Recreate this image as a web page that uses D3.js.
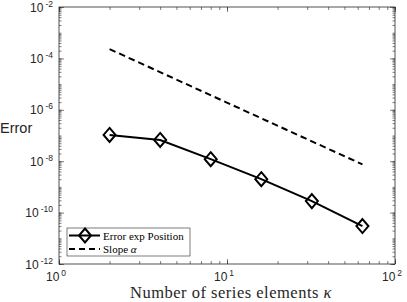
<!DOCTYPE html>
<html>
<head>
<meta charset="utf-8">
<script src="https://cdn.jsdelivr.net/npm/d3@7"></script>
<style>
body { margin: 0; background: #fff; }
</style>
</head>
<body>
<script>
var width = 407
var height = 302

// data
var kappa = [2, 4, 8, 16, 32, 64]
var errorExp = [1.05e-7, 6.7e-8, 1.2e-8, 2.0e-9, 2.8e-10, 3.0e-11]
var slopeK = [2, 64]
var slopeVals = [2.3e-4, 7.5e-9]
var xTicks = [1, 10, 100]
var yTicks = [1e-12, 1e-10, 1e-8, 1e-6, 1e-4, 1e-2]
var legendLabels = ['Error exp Position', 'Slope ']

var margin = { left: 59, right: 12, top: 7, bottom: 38 }

var x = d3.scaleLog().domain([1, 100]).range([margin.left, width - margin.right])
var y = d3.scaleLog().domain([1e-12, 1e-2]).range([height - margin.bottom, margin.top])

var svg = d3.select('body').append('svg')
    .attr('width', width)
    .attr('height', height)
    .style('display', 'block')

// minor tick values (k * 10^n)
function minors(lo, hi) {
    var out = []
    for (var e = lo; e < hi; e++) {
        for (var k = 1; k < 10; k++) out.push(k * Math.pow(10, e))
    }
    out.push(Math.pow(10, hi))
    return out
}
var xMinor = minors(0, 2)
var yMinor = minors(-12, -2)

var x0 = x.range()[0], x1 = x.range()[1]
var y0 = y.range()[0], y1 = y.range()[1]

function drawAxis(axis, tx, ty) {
    var g = svg.append('g')
        .attr('transform', 'translate(' + tx + ',' + ty + ')')
        .call(axis)
    g.select('.domain').remove()
    g.selectAll('line').attr('stroke', '#262626').attr('stroke-width', 0.6)
    g.selectAll('text').remove()
    return g
}

// minor ticks, inside, all four sides
drawAxis(d3.axisBottom(x).tickValues(xMinor).tickSize(-3), 0, y0)
drawAxis(d3.axisTop(x).tickValues(xMinor).tickSize(-3), 0, y1)
drawAxis(d3.axisLeft(y).tickValues(yMinor).tickSize(-2.5), x0, 0)
drawAxis(d3.axisRight(y).tickValues(yMinor).tickSize(-2.5), x1, 0)
// major ticks
drawAxis(d3.axisBottom(x).tickValues(xTicks).tickSize(-5), 0, y0)
drawAxis(d3.axisTop(x).tickValues(xTicks).tickSize(-5), 0, y1)
drawAxis(d3.axisLeft(y).tickValues(yTicks).tickSize(-5), x0, 0)
drawAxis(d3.axisRight(y).tickValues(yTicks).tickSize(-5), x1, 0)

// box
svg.append('rect')
    .attr('x', x0).attr('y', y1)
    .attr('width', x1 - x0).attr('height', y0 - y1)
    .attr('fill', 'none')
    .attr('stroke', '#262626')
    .attr('stroke-width', 0.8)

var tickFont = '"Liberation Sans", Arial, sans-serif'

function powLabel(t, v) {
    t.append('tspan').text('10')
    t.append('tspan')
        .attr('dx', 2)
        .attr('dy', -5)
        .attr('font-size', 8.5)
        .text(String(Math.round(Math.log10(v))))
}

// y tick labels
yTicks.forEach(function (v) {
    var t = svg.append('text')
        .attr('x', x0 - 6)
        .attr('y', y(v) + 4.5)
        .attr('text-anchor', 'end')
        .attr('font-family', tickFont)
        .attr('font-size', 12)
        .attr('fill', '#262626')
    powLabel(t, v)
})

// x tick labels
xTicks.forEach(function (v) {
    var t = svg.append('text')
        .attr('x', x(v) - 3)
        .attr('y', y0 + 17)
        .attr('text-anchor', 'middle')
        .attr('font-family', tickFont)
        .attr('font-size', 12)
        .attr('fill', '#262626')
    powLabel(t, v)
})

// axis labels
var serif = '"Liberation Serif", "Times New Roman", serif'
var xl = svg.append('text')
    .attr('x', (x0 + x1) / 2 + 4)
    .attr('y', height - 4)
    .attr('text-anchor', 'middle')
    .attr('font-family', serif)
    .attr('font-size', 16.5)
    .attr('letter-spacing', 0.5)
    .attr('fill', '#262626')
xl.append('tspan').text('Number of series elements ')
xl.append('tspan').attr('font-style', 'italic').text('\u03ba')

svg.append('text')
    .attr('x', 0)
    .attr('y', 133)
    .attr('font-family', tickFont)
    .attr('font-size', 14.5)
    .attr('fill', '#262626')
    .text('Error')

// slope line
var line = d3.line()
    .x(function (d) { return x(d[0]) })
    .y(function (d) { return y(d[1]) })

svg.append('path')
    .datum(d3.zip(slopeK, slopeVals))
    .attr('d', line)
    .attr('fill', 'none')
    .attr('stroke', '#000')
    .attr('stroke-width', 2)
    .attr('stroke-dasharray', '6.5,4')

// error line + diamond markers
var pts = d3.zip(kappa, errorExp)
svg.append('path')
    .datum(pts)
    .attr('d', line)
    .attr('fill', 'none')
    .attr('stroke', '#000')
    .attr('stroke-width', 2)

var diamond = 'M0,-7L6,0L0,7L-6,0Z'
svg.append('g')
    .selectAll('path')
    .data(pts)
    .enter()
    .append('path')
    .attr('transform', function (d) { return 'translate(' + x(d[0]) + ',' + y(d[1]) + ')' })
    .attr('d', diamond)
    .attr('fill', 'none')
    .attr('stroke', '#000')
    .attr('stroke-width', 2)

// legend
var lg = svg.append('g').attr('transform', 'translate(67,228)')
lg.append('rect')
    .attr('width', 123).attr('height', 28)
    .attr('fill', '#fff')
    .attr('stroke', '#262626')
    .attr('stroke-width', 0.6)

lg.append('line')
    .attr('x1', 2).attr('x2', 33).attr('y1', 7.5).attr('y2', 7.5)
    .attr('stroke', '#000').attr('stroke-width', 2)
lg.append('path')
    .attr('transform', 'translate(18,7.5)')
    .attr('d', diamond)
    .attr('fill', 'none')
    .attr('stroke', '#000')
    .attr('stroke-width', 2)
lg.append('line')
    .attr('x1', 2).attr('x2', 33).attr('y1', 21).attr('y2', 21)
    .attr('stroke', '#000').attr('stroke-width', 2)
    .attr('stroke-dasharray', '6,4')

lg.append('text')
    .attr('x', 36).attr('y', 11.5)
    .attr('font-family', serif)
    .attr('font-size', 11)
    .text(legendLabels[0])
var l2 = lg.append('text')
    .attr('x', 36).attr('y', 25)
    .attr('font-family', serif)
    .attr('font-size', 11)
l2.append('tspan').text(legendLabels[1])
l2.append('tspan').attr('font-style', 'italic').text('\u03b1')
</script>
</body>
</html>
